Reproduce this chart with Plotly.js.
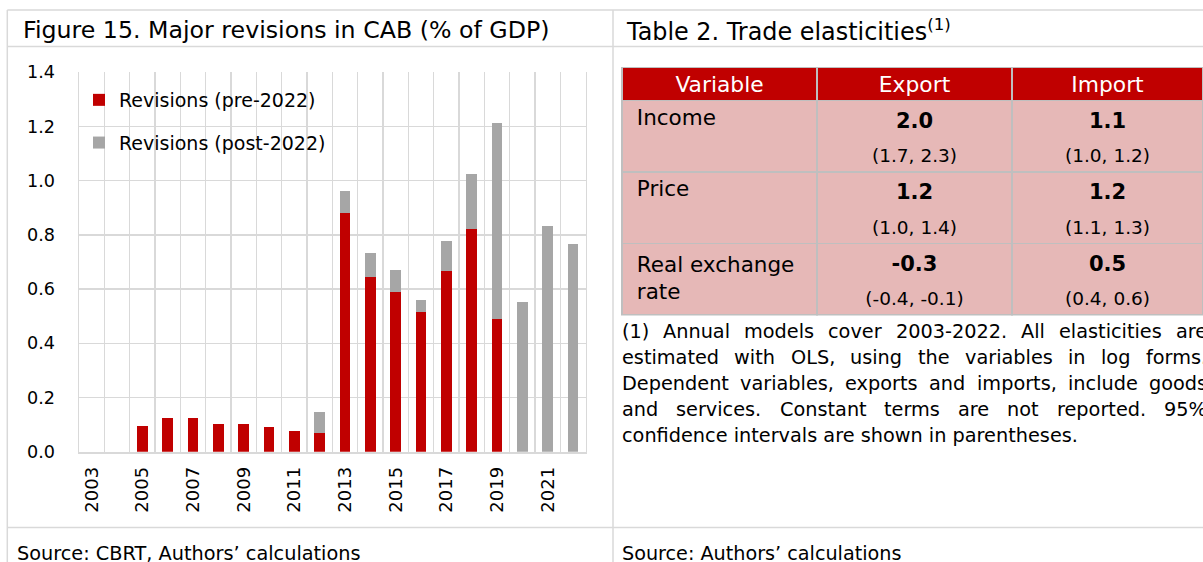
<!DOCTYPE html>
<html>
<head>
<meta charset="utf-8">
<script src="https://cdn.plot.ly/plotly-3.0.1.min.js"></script>
<style>html,body{margin:0;padding:0;background:#fff;overflow:hidden}</style>
</head>
<body>
<div id="chart" style="width:1203px;height:562px"></div>
<script>
// ---------------- DATA ----------------
const years = [2003,2004,2005,2006,2007,2008,2009,2010,2011,2012,2013,2014,2015,2016,2017,2018,2019,2020,2021,2022];
const revisionsPre  = [0,0,0.096,0.125,0.124,0.101,0.102,0.092,0.075,0.068,0.882,0.645,0.588,0.516,0.668,0.823,0.490,0,0,0];
const revisionsPost = [0,0,0,0,0,0,0,0,0,0.078,0.080,0.089,0.081,0.043,0.108,0.202,0.724,0.551,0.833,0.765];
const xTickYears = [2003,2005,2007,2009,2011,2013,2015,2017,2019,2021];
const seriesNames = ['Revisions (pre-2022)','Revisions (post-2022)'];

const chartTitle = 'Figure 15. Major revisions in CAB (% of GDP)';
const chartSource = 'Source: CBRT, Authors\u2019 calculations';
const tableTitle = 'Table 2. Trade elasticities<sup>(1)</sup>';
const tableSource = 'Source: Authors\u2019 calculations';

const tableHeader = ['Variable','Export','Import'];
const tableVariables = [['Income'],['Price'],['Real exchange','rate']];
const exportEstimates = ['2.0','1.2','-0.3'];
const exportIntervals = ['(1.7, 2.3)','(1.0, 1.4)','(-0.4, -0.1)'];
const importEstimates = ['1.1','1.2','0.5'];
const importIntervals = ['(1.0, 1.2)','(1.1, 1.3)','(0.4, 0.6)'];

const footnoteLines = [
  '(1) Annual models cover 2003-2022. All elasticities are',
  'estimated with OLS, using the variables in log forms.',
  'Dependent variables, exports and imports, include goods',
  'and services. Constant terms are not reported. 95%',
  'confidence intervals are shown in parentheses.'
];

// ---------------- LAYOUT HELPERS ----------------
const W = 1203, H = 562;
const FONT = '"DejaVu Sans", Verdana, sans-serif';
const px = x => x / W;
const py = y => 1 - y / H;
const GRID = '#d9d9d9';
const CLEAR = 'rgba(0,0,0,0)';

const traces = [
  {type:'bar', x: years, y: revisionsPre, name: seriesNames[0], legendgroup:'a',
   marker:{color:'#c00000', line:{width:0}}, hoverinfo:'x+y'},
  {type:'bar', x: years, y: revisionsPost, name: seriesNames[1], legendgroup:'b',
   marker:{color:'#a6a6a6', line:{width:0}}, hoverinfo:'x+y'}
];

// table: main grid with variable names and point estimates
const TBL_LEFT = 622, TBL_TOP = 67.5, TBL_BOTTOM = 316, HEAD_H = 33, ROW_H = 71.5;
const OVERLAY_TOP = 124.5;   // second-line (confidence interval) overlay
const COLW = [195,195,191];
const col1 = tableVariables.map(lines => lines.map(l => '\u00a0' + l).join('<br>'));
const col2 = exportEstimates.map(v => '<b>' + v + '</b>');
const col3 = importEstimates.map(v => '<b>' + v + '</b>');
traces.push({
  type:'table',
  domain:{x:[px(TBL_LEFT), 1], y:[py(TBL_BOTTOM), py(TBL_TOP)]},
  columnwidth:COLW,
  header:{values: tableHeader, fill:{color:'#c00000'}, align:'center', height:HEAD_H,
          line:{color:'#bfbfbf', width:1.5}, font:{family:FONT, size:21.8, color:'#ffffff'}},
  cells:{values:[col1,col2,col3], fill:{color:'#e6b8b7'}, align:['left','center','center'], height:ROW_H,
         line:{color:'#bfbfbf', width:1.5}, font:{family:FONT, size:[21.5,21,21], color:'#000000'}}
});
// overlay (no header, no fill): confidence intervals on the second line of each row
traces.push({
  type:'table',
  domain:{x:[px(TBL_LEFT + COLW[0]), 1], y:[py(TBL_BOTTOM + 60), py(OVERLAY_TOP)]},
  columnwidth:[COLW[1], COLW[2]],
  header:{values:[], height:0, fill:{color:CLEAR}, line:{color:CLEAR, width:0}},
  cells:{values:[exportIntervals, importIntervals], fill:{color:CLEAR},
         align:'center', height:ROW_H, line:{color:CLEAR, width:0},
         font:{family:FONT, size:18.5, color:'#000000'}}
});

// frame shapes
const L = (x0,y0,x1,y1) => ({type:'line', xref:'paper', yref:'paper', x0:px(x0), y0:py(y0), x1:px(x1), y1:py(y1),
  line:{color:GRID, width:1.5}, layer:'below'});
const shapes = [
  L(7.3,10,1203,10), L(7.3,46.5,1203,46.5), L(7.3,527.5,1203,527.5),
  L(7.3,10,7.3,562), L(613,10,613,562)
];

// annotations
const A = (text,x,y,size,extra) => Object.assign({text, x:px(x), y:py(y), xref:'paper', yref:'paper',
  xanchor:'left', yanchor:'middle', showarrow:false, borderpad:0, borderwidth:0,
  font:{family:FONT, size, color:'#000'}}, extra||{});
const annotations = [
  A(chartTitle, 22.5, 29.5, 23.7),
  A(tableTitle, 626, 29.5, 23.9),
  A(chartSource, 17, 553, 19.3),
  A(tableSource, 622, 553, 19.2)
];

// justified footnote
const FN_SIZE = 19.3, FN_LEFT = 622, FN_RIGHT = 1207, FN_TOP = 331, FN_STEP = 26;
const cv = document.createElement('canvas').getContext('2d');
cv.font = FN_SIZE + 'px "DejaVu Sans"';
footnoteLines.forEach((line, i) => {
  const y = FN_TOP + i * FN_STEP;
  if (i === footnoteLines.length - 1) { annotations.push(A(line, FN_LEFT, y, FN_SIZE)); return; }
  const words = line.split(' ');
  const widths = words.map(w => cv.measureText(w).width);
  const total = widths.reduce((a,b)=>a+b,0);
  const gap = (FN_RIGHT - FN_LEFT - total) / (words.length - 1);
  let x = FN_LEFT;
  words.forEach((w,k) => { annotations.push(A(w, x, y, FN_SIZE)); x += widths[k] + gap; });
});

const layout = {
  width: W, height: H, margin:{l:0,r:0,t:0,b:0},
  paper_bgcolor:'#ffffff', plot_bgcolor:'#ffffff',
  font:{family:FONT, color:'#000'},
  barmode:'stack', bargap:0.58,
  showlegend:true,
  legend:{x:px(79), y:py(81), xanchor:'left', yanchor:'top', bgcolor:CLEAR,
          font:{family:FONT, size:19, color:'#000'}, traceorder:'grouped', tracegroupgap:15},
  xaxis:{domain:[px(79), px(585.7)], range:[2002.5, 2022.5], tickmode:'array', tickvals:xTickYears,
         ticktext: xTickYears.map(String), tickangle:-90, ticks:'', showgrid:false, zeroline:false,
         ticklabelstandoff:6, tickfont:{family:FONT, size:18, color:'#000'},
         showline:true, linecolor:GRID, linewidth:2,
         minor:{tick0:2002.5, dtick:1, showgrid:true, gridcolor:GRID, gridwidth:1.5, ticks:''}, fixedrange:true},
  yaxis:{domain:[py(451.7), py(72.3)], range:[0,1.4], dtick:0.2, tickformat:'.1f', ticks:'',
         showgrid:true, gridcolor:GRID, gridwidth:1.5, zeroline:false,
         showline:true, mirror:true, linecolor:GRID, linewidth:1.5,
         ticklabelstandoff:19, tickfont:{family:FONT, size:17.6, color:'#000'}, fixedrange:true},
  shapes, annotations
};

Plotly.newPlot('chart', traces, layout, {displayModeBar:false, staticPlot:true});
</script>
</body>
</html>
